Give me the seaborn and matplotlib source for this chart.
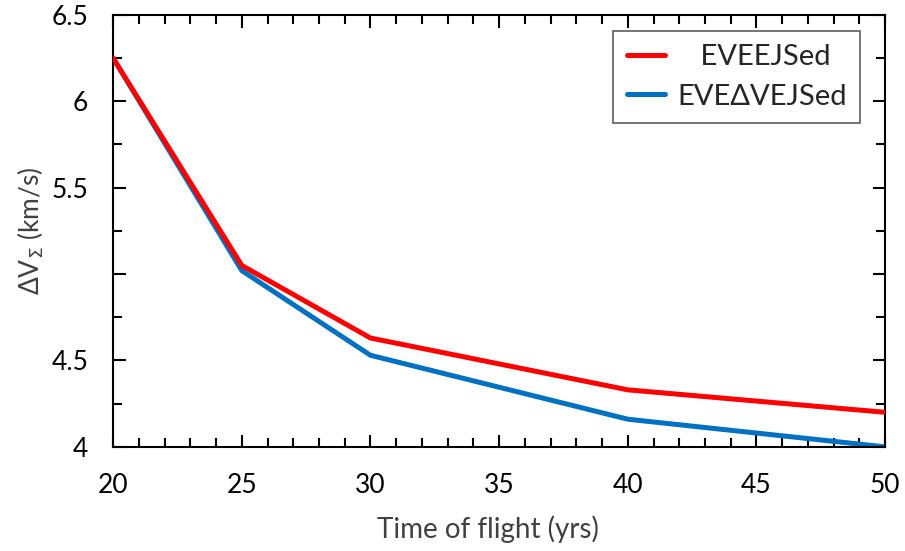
import pandas as pd
import matplotlib.pyplot as plt
import seaborn as sns
from matplotlib.ticker import MultipleLocator

tof = [20, 25, 30, 40, 50]
dv_eveejsed = [6.25, 5.05, 4.63, 4.33, 4.20]
dv_evedvejsed = [6.25, 5.02, 4.53, 4.16, 4.00]
labels = ["   EVEEJSed", "EVE\u0394VEJSed"]
ytick_vals = [4, 4.5, 5, 5.5, 6, 6.5]
ytick_labels = ["4", "4.5", "", "5.5", "6", "6.5"]

df = pd.DataFrame({
    "tof": tof * 2,
    "dv": dv_eveejsed + dv_evedvejsed,
    "case": [labels[0]] * len(tof) + [labels[1]] * len(tof),
})

sns.set_style("ticks")
plt.rcParams["font.family"] = ["Lato", "DejaVu Sans"]

fig = plt.figure(figsize=(9.05, 5.51), dpi=100)
ax = fig.add_axes([0.125, 0.189, 0.853, 0.784])
sns.lineplot(data=df, x="tof", y="dv", hue="case",
             palette=["#ff0000", "#0070c0"], linewidth=3.6, ax=ax)
# red curve sits on top of the blue one
ax.lines[0].set_zorder(3)

ax.set_xlim(20, 50)
ax.set_ylim(4, 6.5)
ax.xaxis.set_major_locator(MultipleLocator(5))
ax.xaxis.set_minor_locator(MultipleLocator(1))
ax.set_yticks(ytick_vals)
ax.set_yticklabels(ytick_labels)
ax.yaxis.set_minor_locator(MultipleLocator(0.25))
ax.tick_params(which="both", direction="in", top=True, right=True,
               labelsize=19, width=1.5, colors="black")
ax.tick_params(which="major", length=9)
ax.tick_params(which="minor", length=6.5)
ax.tick_params(axis="x", which="major", pad=19)
ax.tick_params(axis="y", which="major", pad=18)
for s in ax.spines.values():
    s.set_linewidth(1.5)
    s.set_color("black")

ax.set_xlabel("Time of flight (yrs)", fontsize=20, color="#404040")
ax.xaxis.set_label_coords(0.486, -0.158)
ax.set_ylabel("\u0394V$_\u03a3$ (km/s)", fontsize=19, color="#404040", labelpad=4)

leg = ax.legend(loc="upper right", bbox_to_anchor=(0.968, 0.962), fontsize=21,
                frameon=True, fancybox=False, edgecolor="#333333",
                handlelength=1.3, borderpad=0.45, labelspacing=0.45,
                handletextpad=0.45, borderaxespad=0)
leg.get_frame().set_linewidth(1.2)
for t in leg.get_texts():
    t.set_color("#262626")

fig.savefig("out.png", dpi=100)
